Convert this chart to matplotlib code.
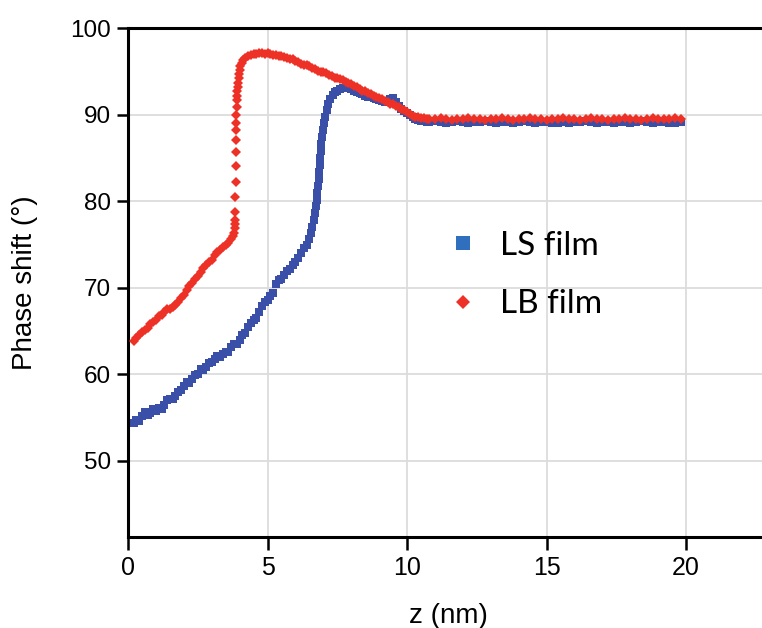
import matplotlib.pyplot as plt
from matplotlib.lines import Line2D

# LS film (blue squares), (z in nm, phase shift in degrees)
ls_points = [
    (0.2, 54.4), (0.3, 54.7), (0.4, 54.6), (0.5, 55.2), (0.6, 55.6), (0.7, 55.3),
    (0.8, 55.5), (0.9, 56.0), (1.0, 55.8), (1.1, 56.1), (1.2, 56.0), (1.3, 56.5),
    (1.4, 57.0), (1.5, 57.2), (1.6, 57.1), (1.7, 57.5), (1.8, 58.0), (1.9, 58.2),
    (2.0, 58.6), (2.1, 59.1), (2.2, 59.0), (2.3, 59.5), (2.4, 59.9), (2.5, 60.0),
    (2.6, 60.6), (2.7, 60.5), (2.8, 60.9), (2.9, 61.3), (3.0, 61.4), (3.1, 61.8),
    (3.2, 62.1), (3.3, 62.0), (3.4, 62.4), (3.5, 62.6), (3.6, 62.6), (3.7, 63.1),
    (3.8, 63.5), (3.9, 63.5), (4.0, 64.0), (4.1, 64.6), (4.2, 64.8), (4.3, 65.5),
    (4.4, 65.9), (4.5, 66.3), (4.6, 66.5), (4.7, 67.2), (4.8, 67.9), (4.9, 68.3),
    (5.0, 68.6), (5.1, 69.1), (5.2, 69.4), (5.3, 70.4), (5.4, 70.9), (5.5, 71.0),
    (5.6, 71.5), (5.7, 71.9), (5.8, 72.2), (5.9, 72.6), (6.0, 73.0), (6.1, 73.5),
    (6.2, 74.0), (6.3, 74.6), (6.4, 75.0), (6.5, 75.6), (6.55, 76.3), (6.6, 77.0),
    (6.65, 77.8), (6.7, 78.6), (6.73, 79.4), (6.76, 80.2), (6.79, 81.0), (6.81, 81.8),
    (6.83, 82.6), (6.85, 83.4), (6.87, 84.2), (6.89, 85.0), (6.91, 85.8), (6.93, 86.6),
    (6.96, 87.4), (6.99, 88.2), (7.03, 89.0), (7.07, 89.8), (7.12, 90.5), (7.18, 91.2),
    (7.25, 91.8), (7.33, 92.3), (7.42, 92.6), (7.5, 92.8), (7.6, 93.0), (7.7, 93.1),
    (7.8, 93.2), (7.9, 93.2), (8.0, 93.0), (8.1, 92.8), (8.2, 92.6), (8.3, 92.5),
    (8.4, 92.4), (8.5, 92.2), (8.6, 92.1), (8.7, 92.0), (8.8, 91.9), (8.9, 91.8),
    (9.0, 91.7), (9.1, 91.6), (9.2, 91.5), (9.3, 91.5), (9.4, 91.8), (9.5, 91.9),
    (9.6, 91.5), (9.7, 91.0), (9.8, 90.7), (9.9, 90.4), (10.0, 90.2), (10.1, 90.0),
    (10.2, 89.7), (10.3, 89.5), (10.4, 89.4), (10.5, 89.3), (10.6, 89.3), (10.7, 89.2),
    (10.8, 89.2), (11.0, 89.3), (11.2, 89.2), (11.4, 89.1), (11.6, 89.2), (11.8, 89.3),
    (12.0, 89.2), (12.2, 89.1), (12.4, 89.2), (12.6, 89.2), (12.8, 89.3), (13.0, 89.2),
    (13.2, 89.1), (13.4, 89.2), (13.6, 89.2), (13.8, 89.1), (14.0, 89.2), (14.2, 89.3),
    (14.4, 89.2), (14.6, 89.1), (14.8, 89.2), (15.0, 89.2), (15.2, 89.1), (15.4, 89.0),
    (15.6, 89.2), (15.8, 89.1), (16.0, 89.2), (16.2, 89.2), (16.4, 89.3), (16.6, 89.2),
    (16.8, 89.1), (17.0, 89.2), (17.2, 89.2), (17.4, 89.1), (17.6, 89.2), (17.8, 89.2),
    (18.0, 89.1), (18.2, 89.2), (18.4, 89.3), (18.6, 89.2), (18.8, 89.1), (19.0, 89.2),
    (19.2, 89.2), (19.4, 89.1), (19.6, 89.0), (19.8, 89.2),
]

# LB film (red diamonds): rise, sharp jump near 3.85 nm, peak, decay, plateau
lb_points = [
    (0.2, 63.9), (0.3, 64.2), (0.4, 64.5), (0.5, 64.9), (0.6, 65.1), (0.7, 65.4),
    (0.8, 65.8), (0.9, 66.0), (1.0, 66.3), (1.1, 66.7), (1.2, 66.8), (1.3, 67.2),
    (1.4, 67.5), (1.5, 67.5), (1.6, 67.8), (1.7, 68.0), (1.8, 68.3), (1.9, 68.8),
    (2.0, 69.2), (2.1, 69.7), (2.2, 70.2), (2.3, 70.5), (2.4, 71.0), (2.5, 71.4),
    (2.6, 71.8), (2.7, 72.3), (2.8, 72.6), (2.9, 73.0), (3.0, 73.2), (3.1, 73.8),
    (3.2, 74.1), (3.3, 74.4), (3.4, 74.7), (3.5, 75.0), (3.6, 75.2), (3.7, 75.6),
    (3.75, 76.0), (3.8, 76.3), (3.82, 76.9), (3.83, 77.4), (3.84, 77.8), (3.845, 78.8),
    (3.85, 80.5), (3.855, 82.2), (3.86, 84.1), (3.865, 85.7), (3.87, 87.1), (3.875, 88.2),
    (3.88, 89.1), (3.885, 90.0), (3.89, 90.9), (3.9, 91.7), (3.91, 92.2), (3.92, 92.7),
    (3.93, 93.2), (3.94, 93.7), (3.96, 94.2), (3.98, 94.7), (4.0, 95.2), (4.03, 95.6),
    (4.07, 96.0), (4.12, 96.3), (4.2, 96.6), (4.3, 96.8), (4.4, 96.9), (4.5, 97.0),
    (4.6, 97.0), (4.7, 97.1), (4.8, 97.1), (4.9, 97.0), (5.0, 97.1), (5.1, 97.0),
    (5.2, 96.9), (5.3, 96.9), (5.4, 96.8), (5.5, 96.8), (5.6, 96.7), (5.7, 96.6),
    (5.8, 96.5), (5.9, 96.4), (6.0, 96.2), (6.1, 96.1), (6.2, 95.9), (6.3, 95.8),
    (6.4, 95.7), (6.5, 95.6), (6.6, 95.4), (6.7, 95.3), (6.8, 95.1), (6.9, 95.0),
    (7.0, 94.9), (7.1, 94.8), (7.2, 94.6), (7.3, 94.5), (7.4, 94.3), (7.5, 94.2),
    (7.6, 94.1), (7.7, 94.0), (7.8, 93.8), (7.9, 93.7), (8.0, 93.5), (8.1, 93.3),
    (8.2, 93.2), (8.3, 93.0), (8.4, 92.8), (8.5, 92.7), (8.6, 92.5), (8.7, 92.4),
    (8.8, 92.2), (8.9, 92.1), (9.0, 91.9), (9.1, 91.8), (9.2, 91.6), (9.3, 91.5),
    (9.4, 91.3), (9.5, 91.2), (9.6, 91.0), (9.7, 90.9), (9.8, 90.7), (9.9, 90.5),
    (10.0, 90.3), (10.1, 90.1), (10.2, 89.9), (10.3, 89.8), (10.4, 89.7), (10.5, 89.6),
    (10.6, 89.6), (10.7, 89.5), (10.8, 89.5), (11.0, 89.5), (11.2, 89.6), (11.4, 89.5),
    (11.6, 89.4), (11.8, 89.5), (12.0, 89.5), (12.2, 89.6), (12.4, 89.5), (12.6, 89.5),
    (12.8, 89.4), (13.0, 89.5), (13.2, 89.5), (13.4, 89.6), (13.6, 89.5), (13.8, 89.4),
    (14.0, 89.5), (14.2, 89.5), (14.4, 89.6), (14.6, 89.5), (14.8, 89.5), (15.0, 89.4),
    (15.2, 89.5), (15.4, 89.5), (15.6, 89.6), (15.8, 89.5), (16.0, 89.5), (16.2, 89.4),
    (16.4, 89.5), (16.6, 89.6), (16.8, 89.5), (17.0, 89.5), (17.2, 89.4), (17.4, 89.5),
    (17.6, 89.5), (17.8, 89.6), (18.0, 89.5), (18.2, 89.5), (18.4, 89.4), (18.6, 89.5),
    (18.8, 89.6), (19.0, 89.5), (19.2, 89.5), (19.4, 89.5), (19.6, 89.6), (19.8, 89.5),
]

ls_z, ls_phase = zip(*ls_points)
lb_z, lb_phase = zip(*lb_points)

x_ticks = [0, 5, 10, 15, 20]
y_ticks = [50, 60, 70, 80, 90, 100]

blue = "#3a4fa8"
blue_legend = "#2f6fbd"
red = "#ee3126"

plt.rcParams["font.family"] = ["Liberation Sans", "DejaVu Sans"]

fig = plt.figure(figsize=(7.62, 6.28), dpi=100)
ax = fig.add_axes([0.168, 0.145, 0.832, 0.810])

ax.plot(ls_z, ls_phase, "s", color=blue, markersize=6.3, markeredgewidth=0, zorder=2)
ax.plot(lb_z, lb_phase, "D", color=red, markersize=5.2, markeredgewidth=0, zorder=3)

ax.set_xlim(0, 22.72)
ax.set_ylim(41.2, 100)
ax.set_xticks(x_ticks)
ax.set_yticks(y_ticks)
ax.grid(True, color="#dcdcdc", linewidth=1.3, zorder=0)
ax.set_axisbelow(True)

for side in ["left", "bottom", "top"]:
    ax.spines[side].set_linewidth(2.2)
    ax.spines[side].set_color("black")
ax.spines["right"].set_visible(False)

ax.tick_params(axis="y", direction="out", length=8, width=1.8, pad=4, labelsize=17.5)
ax.tick_params(axis="x", direction="out", length=9, width=1.8, pad=5, labelsize=18)

ax.set_xlabel("z (nm)", fontsize=20)
ax.xaxis.set_label_coords(0.506, -0.13)
ax.set_ylabel("Phase shift (°)", fontsize=20)
ax.yaxis.set_label_coords(-0.142, 0.5)

legend_elements = [
    Line2D([0], [0], marker="s", color="w", label="LS film",
           markerfacecolor=blue_legend, markeredgewidth=0, markersize=10),
    Line2D([0], [0], marker="D", color="w", label="LB film",
           markerfacecolor=red, markeredgewidth=0, markersize=7.5),
]
ax.legend(handles=legend_elements, loc="upper left", bbox_to_anchor=(0.502, 0.602),
          frameon=False, prop={"family": "Lato", "size": 24},
          borderaxespad=0, borderpad=0,
          handlelength=1.0, handletextpad=0.62, labelspacing=0.86)

fig.savefig("out.png", dpi=100)
